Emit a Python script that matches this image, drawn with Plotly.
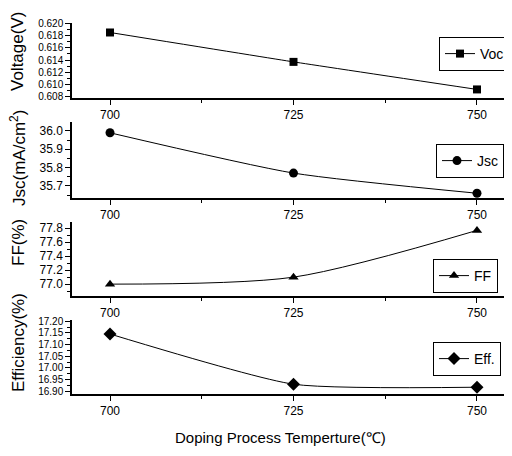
import plotly.graph_objects as go

temps = [700, 725, 750]
voc = [0.6185, 0.6137, 0.6092]
jsc = [35.99, 35.77, 35.66]
ff = [77.0, 77.1, 77.77]
eff = [17.145, 16.93, 16.917]

names = ["Voc", "Jsc", "FF", "Eff."]
ytitles = ["Voltage(V)", "Jsc(mA/cm<sup>2</sup>)", "FF(%)", "Efficiency(%)"]
xtick_vals = [700, 725, 750]
xtick_text = ["700", "725", "750"]

# page body has an 8px margin: work in page pixels, then offset
OFF = 8
H = 456 - OFF
W = 512 - OFF
L = 72 - OFF

series = [voc, jsc, ff, eff]
symbols = ["square", "circle", "triangle-up", "diamond"]
msizes = [8, 9, 9, 10]
smooth = [0.3, 0.6, 0.8, 0.55]
# page-pixel extents (top, bottom)
pix = [(23, 98), (122, 198), (222, 296), (320, 394)]
yranges = [[0.6078, 0.62005], [35.634, 36.049], [76.83, 77.89], [16.888, 17.205]]
dticks = [0.002, 0.1, 0.2, 0.05]
minor_dt = [0.001, 0.05, 0.1, 0.025]
tickfmt = [".3f", ".1f", ".1f", ".2f"]
yfs = [10, 12, 12, 10]
leg_pos = [(510, 37), (504, 144), (498, 259), (501, 342)]
title_y = [52, 158, 243, 343]

def px_x(p):
    return (p - OFF - L) / (W - L)

def px_y(p):
    return 1 - (p - OFF) / H

fig = go.Figure()
font_family = "Liberation Sans, Arial, sans-serif"

for i in range(4):
    sfx = "" if i == 0 else str(i + 1)
    fig.add_trace(go.Scatter(
        x=temps, y=series[i], name=names[i],
        mode="lines+markers",
        line=dict(color="black", width=1, shape="spline", smoothing=smooth[i]),
        marker=dict(symbol=symbols[i], size=msizes[i], color="black"),
        xaxis="x" + sfx, yaxis="y" + sfx,
        legend="legend" + sfx,
    ))
    top, bot = pix[i]
    dom = [px_y(bot), px_y(top)]
    fig.layout["xaxis" + sfx] = dict(
        domain=[0, 1], range=[694.82, 754.77], anchor="y" + sfx,
        showline=True, linecolor="black", linewidth=1.5,
        ticks="outside", ticklen=5, tickcolor="black",
        tickvals=xtick_vals, ticktext=xtick_text,
        minor=dict(tickvals=[712.5, 737.5], ticks="outside", ticklen=3, tickcolor="black"),
        showgrid=False, zeroline=False,
        tickfont=dict(size=12, color="black", family=font_family),
    )
    fig.layout["yaxis" + sfx] = dict(
        domain=dom, range=yranges[i], anchor="x" + sfx,
        showline=True, linecolor="black", linewidth=1.5,
        ticks="outside", ticklen=5, tickcolor="black",
        dtick=dticks[i], tickformat=tickfmt[i],
        minor=dict(dtick=minor_dt[i], ticks="outside", ticklen=3, tickcolor="black"),
        showgrid=False, zeroline=False,
        tickfont=dict(size=yfs[i], color="black", family=font_family),
    )
    rx, ty = leg_pos[i]
    fig.layout["legend" + sfx] = dict(
        x=px_x(rx), xanchor="right",
        y=px_y(ty), yanchor="top",
        bordercolor="black", borderwidth=1, bgcolor="white",
        font=dict(size=14, color="black", family=font_family),
        itemwidth=30, tracegroupgap=0,
    )
    fig.add_annotation(
        text=ytitles[i], xref="paper", yref="paper",
        x=px_x(18), y=px_y(title_y[i]),
        xanchor="center", yanchor="middle",
        textangle=-90, showarrow=False,
        font=dict(size=17, color="black", family=font_family),
    )

fig.add_annotation(
    text="Doping Process Temperture(℃)", xref="paper", yref="paper",
    x=px_x(280), y=px_y(437),
    xanchor="center", yanchor="middle",
    showarrow=False,
    font=dict(size=15, color="black", family=font_family),
)

fig.update_layout(
    width=W, height=H,
    margin=dict(l=L, r=0, t=0, b=0, autoexpand=False),
    plot_bgcolor="white", paper_bgcolor="white",
    showlegend=True,
)

fig.write_html("out.html")
